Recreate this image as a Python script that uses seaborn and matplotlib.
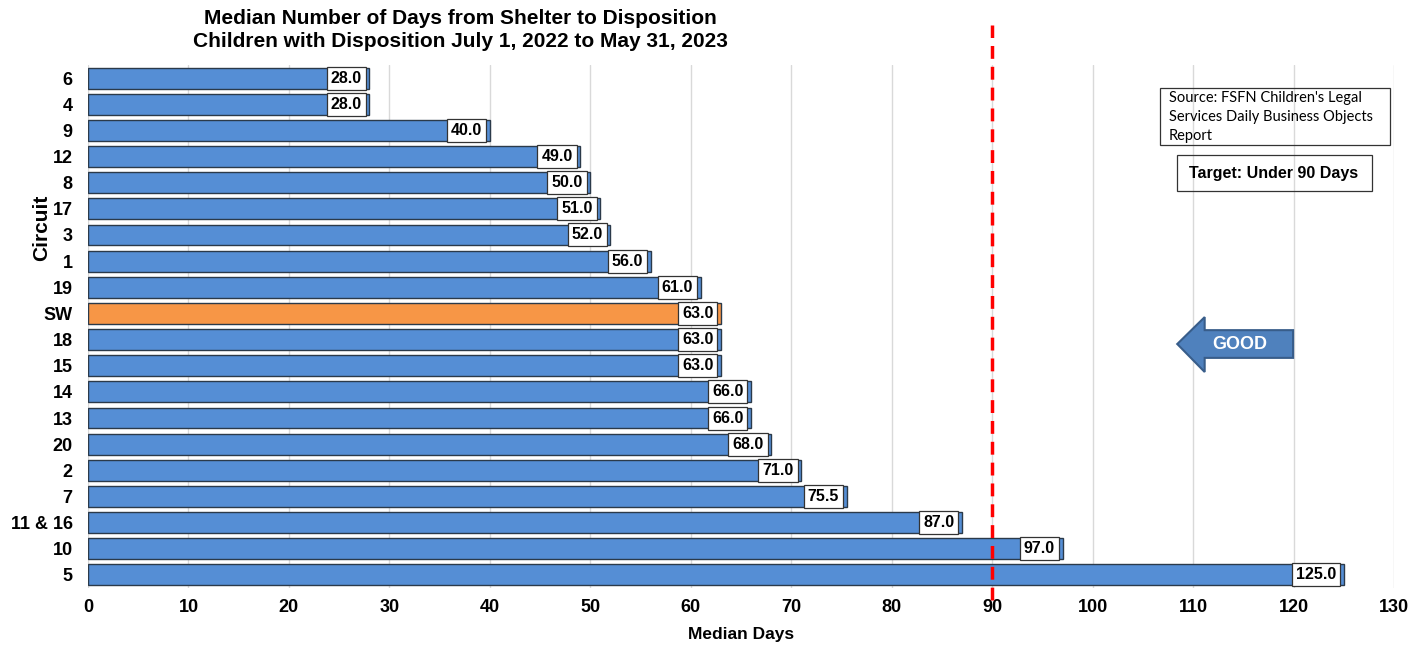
import matplotlib
matplotlib.use("Agg")
import matplotlib.pyplot as plt
from matplotlib.patches import Rectangle, Polygon
import seaborn as sns
import pandas as pd

circuits = ["6", "4", "9", "12", "8", "17", "3", "1", "19", "SW", "18", "15",
            "14", "13", "20", "2", "7", "11 & 16", "10", "5"]
median_days = [28.0, 28.0, 40.0, 49.0, 50.0, 51.0, 52.0, 56.0, 61.0, 63.0, 63.0, 63.0,
               66.0, 66.0, 68.0, 71.0, 75.5, 87.0, 97.0, 125.0]
target_days = 90
x_ticks = list(range(0, 131, 10))

title = "Median Number of Days from Shelter to Disposition\nChildren with Disposition July 1, 2022 to May 31, 2023"
source_text = "Source: FSFN Children's Legal\nServices Daily Business Objects\nReport"
target_text = "Target: Under 90 Days"

BLUE = "#558ED5"
ORANGE = "#F79646"
EDGE = "#2B3A4A"

sns.set_theme(style="white")
plt.rcParams["font.family"] = ["Liberation Sans", "DejaVu Sans"]
plt.rcParams["text.color"] = "black"
plt.rcParams["axes.labelcolor"] = "black"
plt.rcParams["xtick.color"] = "black"
plt.rcParams["ytick.color"] = "black"

df = pd.DataFrame({"Circuit": circuits, "Median": median_days})
palette = {c: (ORANGE if c == "SW" else BLUE) for c in circuits}

fig = plt.figure(figsize=(14.26, 6.5), dpi=100)
ax = fig.add_axes([0.0617, 0.0954, 0.9159, 0.8046])

sns.barplot(data=df, x="Median", y="Circuit", hue="Circuit", palette=palette,
            order=circuits, hue_order=circuits, orient="h", width=0.8,
            edgecolor=EDGE, linewidth=1.0, saturation=1, legend=False, ax=ax, zorder=2)

ax.set_xlim(0, 130)
ax.set_ylim(len(circuits) - 0.5, -0.5)
ax.set_xticks(x_ticks)
ax.set_xticklabels([str(t) for t in x_ticks], fontsize=13, fontweight="bold")
ax.tick_params(axis="y", labelsize=13, length=0, pad=11)
ax.tick_params(axis="x", length=0, pad=8)
for lbl in ax.get_yticklabels():
    lbl.set_fontweight("bold")
ax.grid(axis="x", color="#D9D9D9", linewidth=1.0, zorder=0)
ax.set_axisbelow(True)
for s in ax.spines.values():
    s.set_visible(False)

ax.set_xlabel("Median Days", fontsize=12.5, fontweight="bold", labelpad=8)
ax.set_ylabel("Circuit", fontsize=15, fontweight="bold")
ax.yaxis.set_label_coords(-0.028, 0.688)

# value labels in white boxes at the end of each bar
for i, v in enumerate(median_days):
    ax.annotate(f"{v:.1f}", xy=(v, i), xytext=(-5.5, 0), textcoords="offset points",
                ha="right", va="center", fontsize=11.5, fontweight="bold", color="black",
                bbox=dict(boxstyle="square,pad=0.25", fc="white", ec="#333333", lw=0.9),
                zorder=5)

# target line, extending above the plotting area
ax.axvline(target_days, ymin=-0.023, ymax=1.077, color="#FF0000", lw=2.5,
           dashes=(3.7, 2.3), clip_on=False, zorder=4)

fig.text(460 / 1426, 1 - 30 / 650, title, ha="center", va="center",
         fontsize=15, fontweight="bold", linespacing=1.3)

# source note
fig.patches.append(Rectangle((0.8135, 0.777), 0.1613, 0.0877, transform=fig.transFigure,
                             fill=False, ec="#333333", lw=0.9))
fig.text(1169 / 1426, 1 - 91 / 650, source_text, ha="left", va="top",
         fontsize=10.5, family=["Lato", "DejaVu Sans"], linespacing=1.45)

# target note
fig.patches.append(Rectangle((0.8254, 0.7062), 0.1367, 0.0554, transform=fig.transFigure,
                             fill=False, ec="#333333", lw=0.9))
fig.text(0.8934, 0.7338, target_text, ha="center", va="center",
         fontsize=11.5, fontweight="bold")

# "GOOD" arrow pointing left
arrow_pts = [(0.834, 0.4665), (0.855, 0.518), (0.855, 0.493), (0.9227, 0.493),
             (0.9227, 0.440), (0.855, 0.440), (0.855, 0.413)]
ax.add_patch(Polygon(arrow_pts, closed=True, transform=ax.transAxes,
                     fc="#4F81BD", ec="#385D8A", lw=1.5, zorder=6))
ax.text(0.882, 0.4665, "GOOD", transform=ax.transAxes, ha="center", va="center",
        fontsize=13, fontweight="bold", color="white", zorder=7)

fig.savefig("out.png", dpi=100)
